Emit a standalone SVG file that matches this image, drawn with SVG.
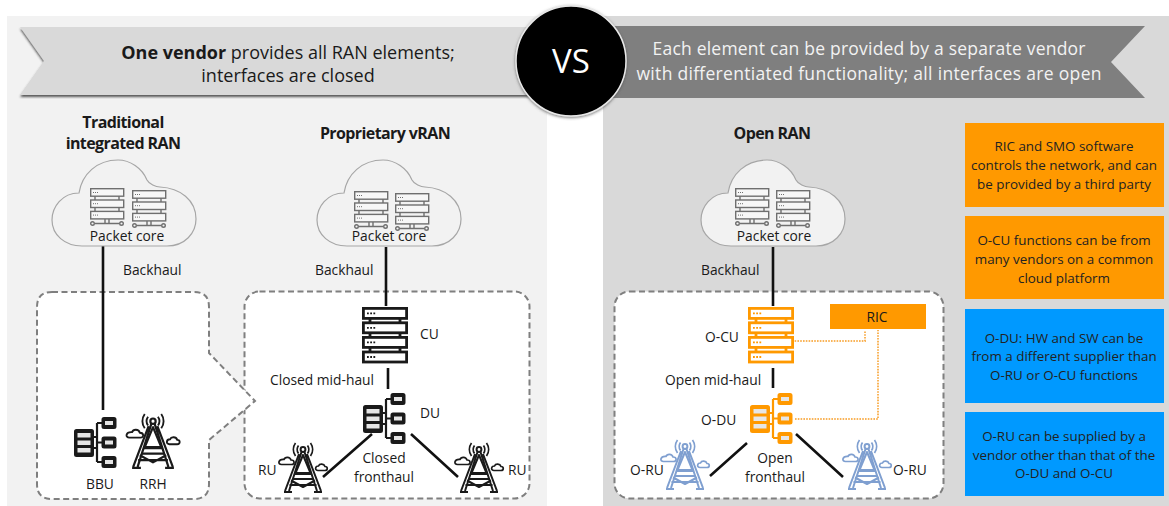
<svg xmlns="http://www.w3.org/2000/svg" width="1169" height="506" viewBox="0 0 1169 506">
<style>
text{font-family:"Open Sans","Liberation Sans",sans-serif;font-size:13.800px;fill:#1a1a1a}
.mid{text-anchor:middle}
.title{font-size:16px;font-weight:700;text-anchor:middle;letter-spacing:-.6px}
.rib{font-size:18px;text-anchor:middle}
.box{font-size:13.400px;text-anchor:middle;fill:#222}
.dash{fill:#fff;stroke:#7f7f7f;stroke-width:2;stroke-dasharray:6 3.5}
.cloud{stroke:#a6a6a6;stroke-width:1.2}
.link{stroke:#111;stroke-width:2.6;fill:none}
.dot{stroke:#f9b459;stroke-width:2;stroke-dasharray:1.6 1.2;fill:none}
.ic{color:#1a1a1a}.or{color:#ff9900}.bl{color:#7f9fd0}.gr{color:#6f6f6f}
</style>
<defs>
<filter id="sh" x="-5%" y="-20%" width="110%" height="145%"><feDropShadow dx="0" dy="2" stdDeviation="1.2" flood-color="#333" flood-opacity=".8"/></filter>
<filter id="gl" x="-10%" y="-10%" width="120%" height="120%"><feDropShadow dx="0" dy="1" stdDeviation="1.5" flood-color="#555" flood-opacity=".8"/></filter>
<path id="cl" d="M30 86H115C133 86 144 73 144 59C144 40 128 28 108 27C104 27 97 24 95 20C90 8 78 0 66 0C45 0 30 14 27 33C10 33 0 47 0 60C0 75 13 86 30 86Z"/>
<g id="srv" fill="none" stroke="currentColor" stroke-width="1.400">
<rect x=".7" y=".7" width="33" height="7.500" fill="#f7f7f7"/><rect x=".7" y="12" width="33" height="7.500" fill="#f7f7f7"/><rect x=".7" y="23.400" width="33" height="7.500" fill="#f7f7f7"/>
<path d="M5 8V12M29 8V12M5 19.500V23.400M29 19.500V23.400M15 31V35.500M19 31V35.500M5 35.500H29"/>
<path stroke-width="1" stroke-dasharray="1 1" d="M3 4.500H9M3 15.700H9M3 27.100H9"/>
<circle cx="2.500" cy="35.500" r="1.800"/><circle cx="31.500" cy="35.500" r="1.800"/>
</g>
<g id="cu" stroke="currentColor" stroke-width="2.800" fill="#fff">
<rect x="1.400" y="1.400" width="43.200" height="10"/><rect x="1.400" y="15.800" width="43.200" height="10"/><rect x="1.400" y="30.400" width="43.200" height="10"/><rect x="1.400" y="45" width="43.200" height="10"/>
<path fill="none" d="M8 11V16M38 11V16M8 26V31M38 26V31M8 40V45M38 40V45"/>
<path fill="none" stroke-width="1.800" stroke-dasharray="1.800 1.400" d="M5 6.400H14M5 20.800H14M5 35.400H14M5 50H14"/>
</g>
<g id="du" stroke="currentColor" fill="none">
<rect x="1" y="13" width="18" height="26" rx="1.500" fill="currentColor" stroke-width="2"/>
<path stroke="none" fill="#e6e6e6" d="M3.500 16H16.500V20.500H3.500ZM3.500 23.500H16.500V28H3.500ZM3.500 31H16.500V35.500H3.500Z"/>
<path stroke-width="2.200" d="M19 20H23M19 31H23M23 25.500H29M23 6H29M23 45H29M23 6V45"/>
<rect x="28.500" y="1" width="13" height="10" rx="1.500" stroke-width="2" fill="currentColor"/><rect x="28.500" y="20.500" width="13" height="10" rx="1.500" stroke-width="2" fill="currentColor"/><rect x="28.500" y="40" width="13" height="10" rx="1.500" stroke-width="2" fill="currentColor"/>
<path stroke="none" fill="#e6e6e6" d="M31 4H39V8H31ZM31 23.500H39V27.500H31ZM31 43H39V47H31Z"/>
</g>
<g id="tw" stroke="currentColor" stroke-width="2" fill="none" stroke-linejoin="round">
<circle cx="0" cy="6.500" r="2.400"/>
<path d="M-1.500 9L-14 48M1.500 9L14 48M-4 11L-18 48M4 11L18 48M-19 49H-11M19 49H11"/>
<path d="M0 12L-7.500 30H7.500ZM-9 31H9M-10.500 36H10.500M-12 37.500L0 44L12 37.500M-13.500 42H13.500"/>
<path stroke-width="1.700" d="M-4.500 2.500A7 7 0 0 0 -4.500 10.500M4.500 2.500A7 7 0 0 1 4.500 10.500M-7.500 0A11 11 0 0 0 -7.500 13M7.500 0A11 11 0 0 1 7.500 13"/>
<path stroke-width="1.700" d="M-21.500 21.500H-11.500C-8 21.500 -8 17 -12 17C-13 13.500 -18 13.500 -19 16.500C-25 16 -25.500 21.500 -21.500 21.500Z"/>
<path stroke-width="1.700" d="M15 27.500H22C25 27.500 25 23.500 22 23.500C21 20.500 16.500 20.500 15.500 23C12 23 11.500 27.500 15 27.500Z"/>
</g>
</defs>

<g id="panels">
<rect x="7" y="16" width="540" height="490" fill="#f2f2f2"/>
<rect x="603" y="16" width="566" height="490" fill="#d9d9d9"/>
</g>

<g id="ribbon-left">
<path d="M20 27H590V95H20L44 61Z" fill="#d9d9d9" filter="url(#sh)"/>
<text class="rib" x="288" y="59"><tspan font-weight="700">One vendor</tspan> provides all RAN elements;</text>
<text class="rib" x="288" y="82">interfaces are closed</text>
</g>
<g id="ribbon-right">
<path d="M560 26H1145L1111 62L1145 98H560Z" fill="#7f7f7f"/>
<text class="rib" x="869" y="55" style="fill:#f2f2f2;font-size:17.500px" textLength="433">Each element can be provided by a separate vendor</text>
<text class="rib" x="869" y="80" style="fill:#f2f2f2;font-size:17.500px" textLength="465">with differentiated functionality; all interfaces are open</text>
</g>
<g id="vs">
<circle cx="571" cy="61" r="55" fill="#000" stroke="#e8e8e8" stroke-width="1.500" filter="url(#gl)"/>
<text x="571" y="73" class="mid" style="fill:#fff;font-size:33px">VS</text>
</g>

<g id="titles">
<text class="title" x="123" y="128">Traditional</text>
<text class="title" x="123" y="149">integrated RAN</text>
<text class="title" x="385" y="139">Proprietary vRAN</text>
<text class="title" x="772" y="139">Open RAN</text>
</g>

<g id="vran-box"><rect class="dash" x="244.500" y="291.500" width="285" height="207" rx="15"/></g>
<g id="trad-box"><path class="dash" d="M52 292H194Q209 292 209 307V353L255 401L209 440V484Q209 499 194 499H52Q37 499 37 484V307Q37 292 52 292Z"/></g>
<g id="open-box"><rect class="dash" x="614.500" y="291.500" width="329" height="207" rx="15"/></g>

<g id="connectors">
<path class="link" d="M103 246V410M386 247V306M388 368V389M372 434L323 477M411 434L458 477M773 247V306M773 368V388M747 443L710 476M796 434L843 477"/>
<path class="dot" d="M775 341H865V331M795 419H878V330"/>
</g>

<g id="cloud-trad"><use href="#cl" x="52" y="160" class="cloud" fill="#f2f2f2"/>
<use href="#srv" x="90" y="188" class="gr"/><use href="#srv" x="132" y="190" class="gr"/>
<text class="mid" x="127" y="241">Packet core</text></g>
<g id="cloud-vran"><use href="#cl" x="317" y="160" class="cloud" fill="#f2f2f2"/>
<use href="#srv" x="354" y="191" class="gr"/><use href="#srv" x="395" y="193" class="gr"/>
<text class="mid" x="389" y="241">Packet core</text></g>
<g id="cloud-open"><use href="#cl" x="701" y="160" class="cloud" fill="#f2f2f2"/>
<use href="#srv" x="735" y="188" class="gr"/><use href="#srv" x="776" y="190" class="gr"/>
<text class="mid" x="774" y="241">Packet core</text></g>

<g id="link-labels">
<text x="123" y="275">Backhaul</text><text x="315" y="275">Backhaul</text><text x="701" y="275">Backhaul</text>
<text x="270" y="385">Closed mid-haul</text><text x="665" y="385">Open mid-haul</text>
<text class="mid" x="384" y="463">Closed</text><text class="mid" x="384" y="482">fronthaul</text>
<text class="mid" x="775" y="463">Open</text><text class="mid" x="775" y="482">fronthaul</text>
</g>

<g id="bbu"><use href="#du" x="74" y="417" class="ic"/><text class="mid" x="100" y="489">BBU</text></g>
<g id="rrh"><use href="#tw" transform="translate(153 414) scale(1.100)" class="ic"/><text class="mid" x="153" y="489">RRH</text></g>
<g id="cu-node"><use href="#cu" x="362" y="307" class="ic"/><text x="420" y="339">CU</text></g>
<g id="du-node"><use href="#du" x="363" y="393" class="ic"/><text x="420" y="418">DU</text></g>
<g id="ru-left"><use href="#tw" x="303" y="443" class="ic"/><text x="258" y="475">RU</text></g>
<g id="ru-right"><use href="#tw" x="479" y="443" class="ic"/><text x="508" y="475">RU</text></g>
<g id="o-cu"><use href="#cu" x="748" y="307" class="or"/><text x="705" y="342">O-CU</text></g>
<g id="ric"><rect x="830" y="304" width="96" height="25" fill="#ff9900"/><text class="mid" x="877" y="322">RIC</text></g>
<g id="o-du"><use href="#du" x="750" y="393" class="or"/><text x="701" y="425">O-DU</text></g>
<g id="o-ru-left"><use href="#tw" x="685" y="440" class="bl"/><text x="630" y="475">O-RU</text></g>
<g id="o-ru-right"><use href="#tw" x="867" y="440" class="bl"/><text x="893" y="475">O-RU</text></g>

<g id="note-ric"><rect x="965" y="123" width="199" height="84" fill="#ff9900"/>
<text class="box" x="1064" y="151">RIC and SMO software</text><text class="box" x="1064" y="170">controls the network, and can</text><text class="box" x="1064" y="189">be provided by a third party</text></g>
<g id="note-ocu"><rect x="965" y="216" width="199" height="83" fill="#ff9900"/>
<text class="box" x="1064" y="245">O-CU functions can be from</text><text class="box" x="1064" y="264">many vendors on a common</text><text class="box" x="1064" y="283">cloud platform</text></g>
<g id="note-odu"><rect x="965" y="309" width="199" height="94" fill="#0099ff"/>
<text class="box" x="1064" y="343">O-DU: HW and SW can be</text><text class="box" x="1064" y="361">from a different supplier than</text><text class="box" x="1064" y="380">O-RU or O-CU functions</text></g>
<g id="note-oru"><rect x="965" y="412" width="199" height="84" fill="#0099ff"/>
<text class="box" x="1064" y="441">O-RU can be supplied by a</text><text class="box" x="1064" y="460">vendor  other than that of the</text><text class="box" x="1064" y="478">O-DU and O-CU</text></g>
</svg>
